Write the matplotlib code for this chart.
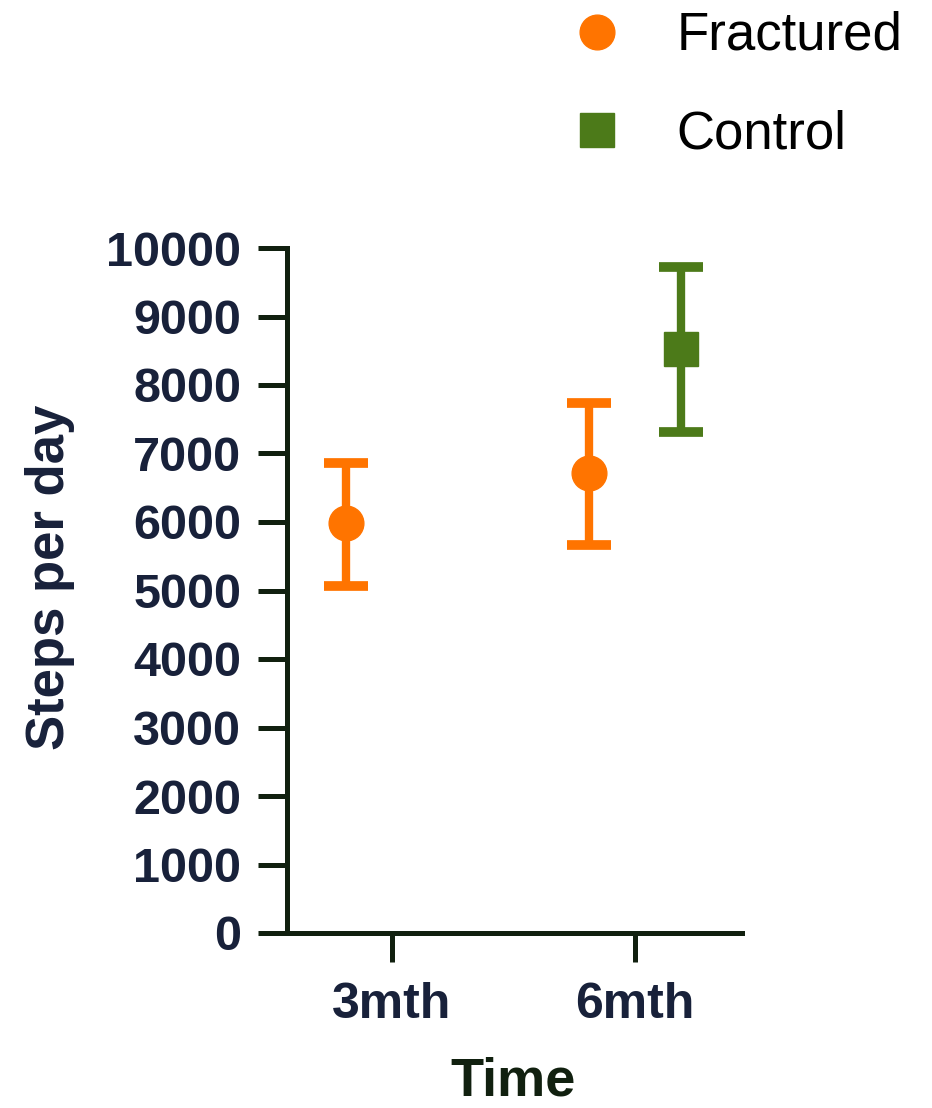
import matplotlib
matplotlib.use("Agg")
import matplotlib.pyplot as plt
import numpy as np
from matplotlib.lines import Line2D

categories = ["3mth", "6mth"]
fractured_mean = [5980, 6710]
fractured_upper = [6860, 7740]
fractured_lower = [5070, 5670]
control_cat = ["6mth"]
control_mean = [8520]
control_upper = [9720]
control_lower = [7310]

ORANGE = "#FF7400"
GREEN = "#4C7A19"
AXCOL = "#11200F"
TXT = "#18213A"

plt.rcParams['font.family'] = ['Liberation Sans', 'DejaVu Sans']

fig = plt.figure(figsize=(9.32, 11.08), dpi=100)
ax = fig.add_axes([287/932, 1-933/1108, (742-287)/932, (933-248)/1108])

pos = {c: i for i, c in enumerate(categories)}
off = 0.19

fx = np.array([pos[c] for c in categories]) - off
fm = np.array(fractured_mean)
ferr = [fm - np.array(fractured_lower), np.array(fractured_upper) - fm]
ax.errorbar(fx, fm, yerr=ferr, fmt='o', color=ORANGE, ms=25, elinewidth=6,
            capsize=16, capthick=7, label="Fractured", clip_on=False)

cx = np.array([pos[c] for c in control_cat]) + off
cm = np.array(control_mean)
cerr = [cm - np.array(control_lower), np.array(control_upper) - cm]
ax.errorbar(cx, cm, yerr=cerr, fmt='s', color=GREEN, ms=25, elinewidth=6,
            capsize=16, capthick=7, label="Control", clip_on=False)

ax.set_ylim(0, 10000)
ax.set_xlim(-0.432, 1.44)
ax.set_yticks(np.arange(0, 10001, 1000))
ax.set_xticks(range(len(categories)))
ax.set_xticklabels(categories)

for s in ["top", "right"]:
    ax.spines[s].set_visible(False)
for s in ["left", "bottom"]:
    ax.spines[s].set_linewidth(3.6)
    ax.spines[s].set_color(AXCOL)
ax.tick_params(axis='both', length=21, width=3.6, color=AXCOL, direction='out')
ax.tick_params(axis='y', pad=12, labelsize=35, labelcolor=TXT)
ax.tick_params(axis='x', pad=14, labelsize=36, labelcolor=TXT)
for lab in ax.get_xticklabels() + ax.get_yticklabels():
    lab.set_fontweight('bold')

fig.text(50/932, 1-577/1108, "Steps per day", rotation=90, ha='center', va='center',
         fontsize=38, fontweight='bold', color=TXT)
fig.text(513/932, 1-1082/1108, "Time", ha='center', va='center',
         fontsize=39, fontweight='bold', color=AXCOL)

hl = [Line2D([], [], marker='o', ls='none', color=ORANGE, ms=25),
      Line2D([], [], marker='s', ls='none', color=GREEN, ms=25)]
fig.legend(hl, ["Fractured", "Control"], loc='upper left',
           bbox_to_anchor=(571/932, 1-11/1108), frameon=False, fontsize=38,
           handlelength=1.0, handletextpad=1.0, labelspacing=0.91, borderpad=0,
           borderaxespad=0)

fig.savefig("out.png", dpi=100, facecolor='white')
